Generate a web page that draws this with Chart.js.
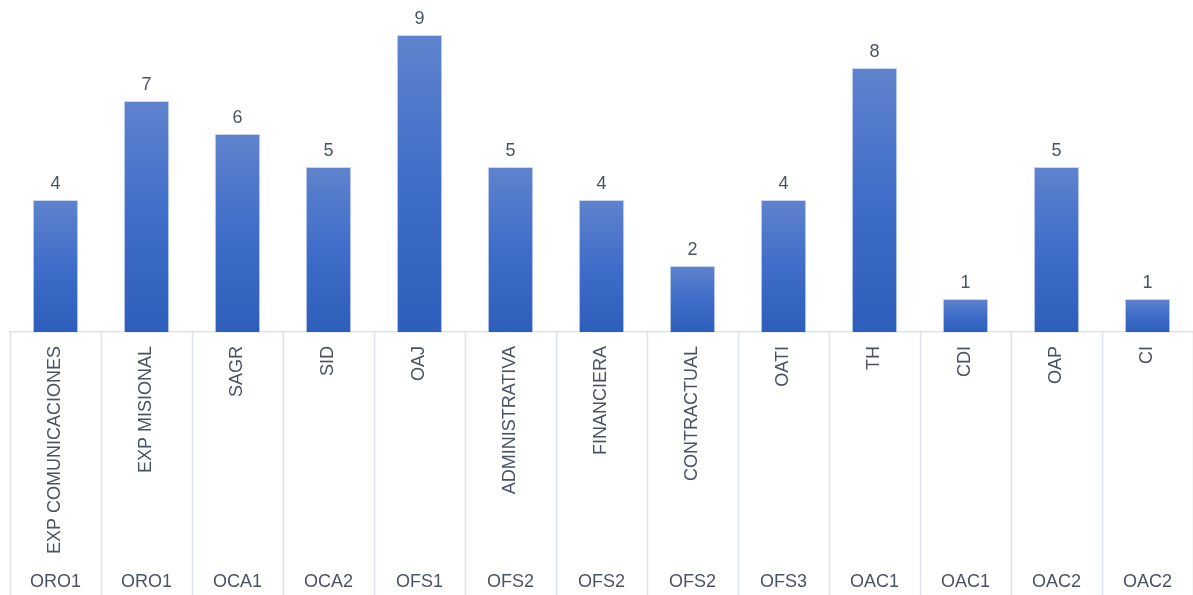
<!DOCTYPE html>
<html>
<head>
<meta charset="utf-8">
<script src="https://cdn.jsdelivr.net/npm/chart.js@4/dist/chart.umd.min.js"></script>
<style>
  html, body { margin: 0; padding: 0; background: #fff; }
  #wrap { width: 1193px; height: 595px; }
</style>
</head>
<body>
<div id="wrap"><canvas id="chart"></canvas></div>
<script>
// datos del grafico
var categorias = ['EXP COMUNICACIONES', 'EXP MISIONAL', 'SAGR', 'SID', 'OAJ', 'ADMINISTRATIVA',
    'FINANCIERA', 'CONTRACTUAL', 'OATI', 'TH', 'CDI', 'OAP', 'CI'];
var grupos = ['ORO1', 'ORO1', 'OCA1', 'OCA2', 'OFS1', 'OFS2', 'OFS2', 'OFS2', 'OFS3', 'OAC1', 'OAC1', 'OAC2', 'OAC2'];
var valores = [4, 7, 6, 5, 9, 5, 4, 2, 4, 8, 1, 5, 1];

var colorTexto = '#4a5364';
var colorLinea = '#dde1e8';
var fuente = '"Liberation Sans", Arial, sans-serif';

// degradado por barra (claro arriba, oscuro abajo)
function degradado(context) {
    var chart = context.chart;
    if (!chart.chartArea) return '#3f6cc4';
    var y = chart.scales.y;
    var top = y.getPixelForValue(context.raw);
    var bottom = y.getPixelForValue(0);
    var g = chart.ctx.createLinearGradient(0, top, 0, bottom);
    g.addColorStop(0, '#5f83cd');
    g.addColorStop(0.5, '#3f6dc9');
    g.addColorStop(1, '#2e5ebb');
    return g;
}

// etiquetas de valor encima de las barras
var etiquetasValor = {
    id: 'etiquetasValor',
    afterDatasetsDraw: function(chart) {
        var ctx = chart.ctx;
        var meta = chart.getDatasetMeta(0);
        ctx.save();
        ctx.font = '18px ' + fuente;
        ctx.fillStyle = colorTexto;
        ctx.textAlign = 'center';
        ctx.textBaseline = 'bottom';
        meta.data.forEach(function(bar, i) {
            ctx.fillText(valores[i], bar.x, bar.y - 7);
        });
        ctx.restore();
    }
};

// lineas verticales entre categorias en la zona de etiquetas
var separadores = {
    id: 'separadores',
    afterDraw: function(chart) {
        var ctx = chart.ctx;
        var x = chart.scales.x;
        var paso = x.getPixelForValue(1) - x.getPixelForValue(0);
        ctx.save();
        ctx.strokeStyle = colorLinea;
        ctx.lineWidth = 1.5;
        for (var i = 0; i <= categorias.length; i++) {
            var px = Math.round(x.getPixelForValue(0) - paso / 2 + i * paso) + 0.5;
            ctx.beginPath();
            ctx.moveTo(px, chart.chartArea.bottom);
            ctx.lineTo(px, chart.height);
            ctx.stroke();
        }
        ctx.restore();
    }
};

new Chart(document.getElementById('chart'), {
    type: 'bar',
    data: {
        labels: categorias,
        datasets: [{
            data: valores,
            backgroundColor: degradado,
            borderColor: 'rgba(190, 205, 238, 0.8)',
            borderWidth: 1,
            categoryPercentage: 1,
            barPercentage: 0.5
        }]
    },
    options: {
        responsive: true,
        maintainAspectRatio: false,
        animation: false,
        layout: { padding: { left: 10, right: 0, top: 2, bottom: 0 } },
        plugins: {
            legend: { display: false },
            tooltip: { enabled: false }
        },
        scales: {
            y: {
                display: false,
                min: 0,
                max: 10
            },
            x: {
                position: 'bottom',
                grid: { display: false },
                border: { display: true, color: colorLinea, width: 1.5 },
                ticks: {
                    color: colorTexto,
                    font: { family: fuente, size: 18 },
                    minRotation: 90,
                    maxRotation: 90,
                    autoSkip: false,
                    padding: 6
                },
                afterFit: function(scale) { scale.height = 228; }
            },
            x2: {
                position: 'bottom',
                type: 'category',
                labels: grupos,
                grid: { display: false },
                border: { display: false },
                ticks: {
                    color: colorTexto,
                    font: { family: fuente, size: 18 },
                    maxRotation: 0,
                    autoSkip: false,
                    padding: 3
                },
                afterFit: function(scale) { scale.height = 35; }
            }
        }
    },
    plugins: [etiquetasValor, separadores]
});
</script>
</body>
</html>
